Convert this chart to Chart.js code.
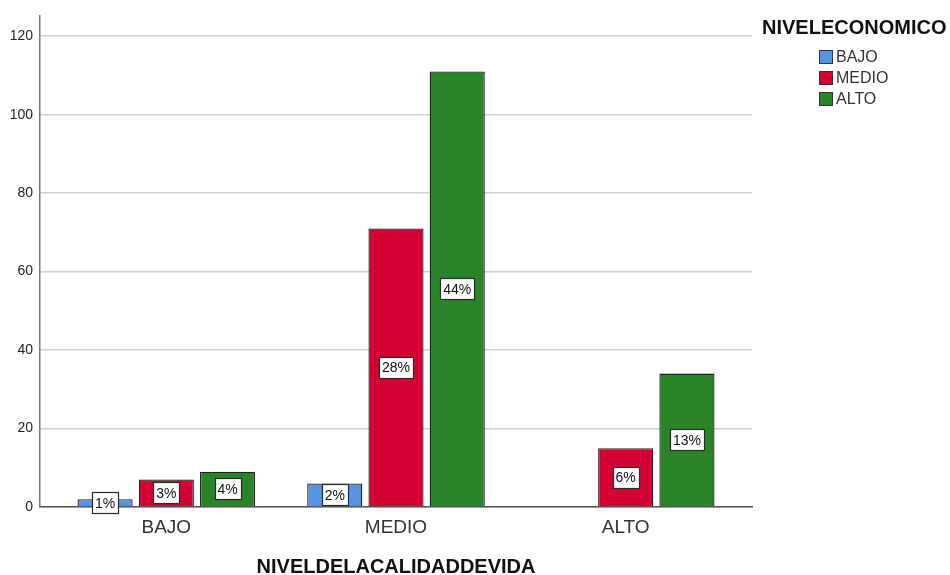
<!DOCTYPE html>
<html>
<head>
<meta charset="utf-8">
<script src="https://cdn.jsdelivr.net/npm/chart.js@4/dist/chart.umd.min.js"></script>
<style>
  html, body { margin: 0; padding: 0; background: #fff; }
  #wrap { width: 950px; height: 575px; }
</style>
</head>
<body>
<div id="wrap"><canvas id="chart" width="950" height="575"></canvas></div>
<script>
// categories (NIVELDELACALIDADDEVIDA) and series (NIVELECONOMICO)
const categories = ['BAJO', 'MEDIO', 'ALTO'];
const bajoValues = [2, 6, null];
const medioValues = [7, 71, 15];
const altoValues = [9, 111, 34];
const yTicks = [0, 20, 40, 60, 80, 100, 120];

const FONT = '"Liberation Sans", Arial, sans-serif';
const total = [...bajoValues, ...medioValues, ...altoValues].reduce((s, v) => s + (v || 0), 0);

const toPoints = arr => arr.map((v, i) => ({ x: i, y: v }));

// white boxed percentage labels in the middle of each bar
const pctLabels = {
  id: 'pctLabels',
  afterDatasetsDraw(chart) {
    const ctx = chart.ctx;
    ctx.save();
    ctx.font = '14px ' + FONT;
    ctx.textAlign = 'center';
    ctx.textBaseline = 'middle';
    chart.data.datasets.forEach((ds, di) => {
      chart.getDatasetMeta(di).data.forEach((bar, i) => {
        const v = ds.data[i].y;
        if (v == null) return;
        const txt = Math.round(v / total * 100) + '%';
        const w = Math.round(ctx.measureText(txt).width + 6);
        const h = 21;
        const cy = (bar.y + bar.base) / 2;
        const bx = Math.round(bar.x - w / 2) + 0.5;
        const by = Math.round(cy - h / 2) + 0.5;
        ctx.fillStyle = '#fff';
        ctx.fillRect(bx, by, w, h);
        ctx.strokeStyle = '#2a2a2a';
        ctx.lineWidth = 1.2;
        ctx.strokeRect(bx, by, w, h);
        ctx.fillStyle = '#111';
        ctx.fillText(txt, bar.x, cy + 1);
      });
    });
    ctx.restore();
  }
};

// legend + axis title, SPSS style
const sideText = {
  id: 'sideText',
  afterDraw(chart) {
    const ctx = chart.ctx;
    const area = chart.chartArea;
    ctx.save();
    ctx.fillStyle = '#111';
    ctx.textBaseline = 'middle';
    ctx.font = 'bold 20px ' + FONT;
    ctx.textAlign = 'left';
    ctx.fillText('NIVELECONOMICO', 762, 28);
    ctx.font = '16px ' + FONT;
    chart.data.datasets.forEach((ds, i) => {
      const y = 57 + i * 21;
      ctx.fillStyle = ds.backgroundColor;
      ctx.fillRect(819, y - 7, 14, 14);
      ctx.strokeStyle = '#333';
      ctx.strokeRect(819.5, y - 6.5, 13, 13);
      ctx.fillStyle = '#333';
      ctx.fillText(ds.label, 836, y + 1);
    });
    ctx.font = 'bold 20px ' + FONT;
    ctx.textAlign = 'center';
    ctx.fillStyle = '#111';
    ctx.fillText('NIVELDELACALIDADDEVIDA', (area.left + area.right) / 2, 567);
    ctx.restore();
  }
};

new Chart(document.getElementById('chart'), {
  type: 'bar',
  data: {
    datasets: [
      { label: 'BAJO', data: toPoints(bajoValues), backgroundColor: '#5795E4' },
      { label: 'MEDIO', data: toPoints(medioValues), backgroundColor: '#D50032' },
      { label: 'ALTO', data: toPoints(altoValues), backgroundColor: '#2A842A' }
    ].map(d => Object.assign(d, { borderColor: '#222', borderWidth: 1.3, categoryPercentage: 0.8, barPercentage: 0.9 }))
  },
  plugins: [pctLabels, sideText],
  options: {
    responsive: false,
    animation: false,
    layout: { padding: { top: 12, right: 198, left: 0, bottom: 0 } },
    plugins: {
      legend: { display: false },
      tooltip: { enabled: false }
    },
    scales: {
      x: {
        type: 'linear',
        offset: false,
        min: -0.55,
        max: 2.55,
        afterBuildTicks: s => { s.ticks = categories.map((c, i) => ({ value: i })); },
        afterFit: s => { s.height = 68; },
        grid: { display: false, drawTicks: false },
        border: { color: '#555', width: 1.5 },
        ticks: {
          padding: 9,
          color: '#333',
          font: { family: FONT, size: 19 },
          callback: v => categories[v]
        }
      },
      y: {
        min: 0,
        max: 125.3,
        afterBuildTicks: s => { s.ticks = yTicks.map(v => ({ value: v })); },
        afterFit: s => { s.width = 40; },
        grid: { color: '#cfcfcf', lineWidth: 1.5, drawTicks: false },
        border: { color: '#777', width: 1.5 },
        ticks: {
          padding: 7,
          color: '#222',
          font: { family: FONT, size: 14 }
        }
      }
    }
  }
});
</script>
</body>
</html>
